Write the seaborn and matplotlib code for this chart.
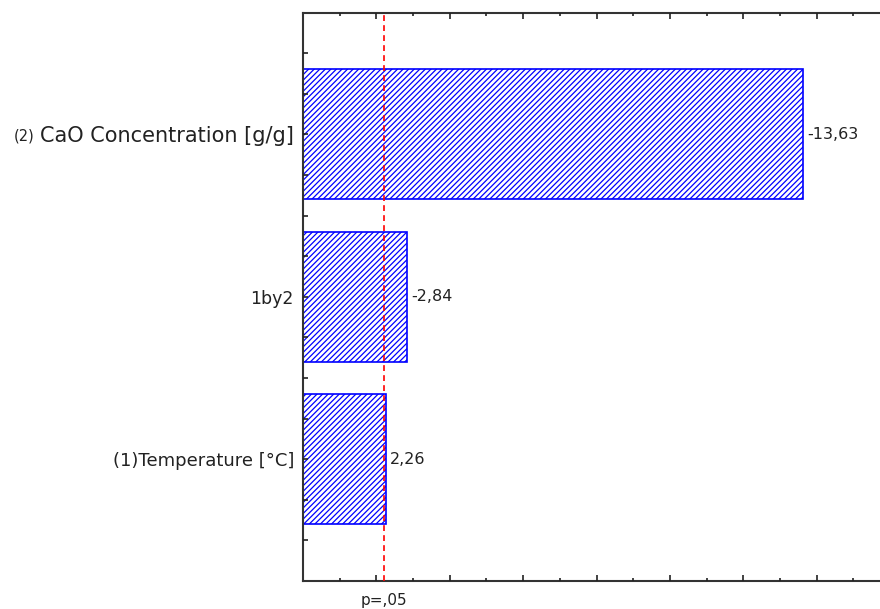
import matplotlib
matplotlib.use("Agg")
import matplotlib.pyplot as plt
import seaborn as sns
import numpy as np
import pandas as pd

# ---- data ----
factors = ["CaO Concentration [g/g]", "1by2", "(1)Temperature [°C]"]
factor_prefix = ["(2)", "", ""]
effects = [-13.63, -2.84, 2.26]
p_crit = 2.201
p_label = "p=,05"

sns.set_style("white")
plt.rcParams["font.family"] = ["DejaVu Sans"]
plt.rcParams["hatch.linewidth"] = 0.9
plt.rcParams["hatch.color"] = "#1f1fff"

df = pd.DataFrame({"factor": factors, "effect": np.abs(effects)})

fig = plt.figure(figsize=(8.8, 6.09), dpi=100)
ax = fig.add_axes([303 / 880, (609 - 581) / 609, 587 / 880, (581 - 12.5) / 609])

sns.barplot(data=df, x="effect", y="factor", orient="h", order=factors,
            color="white", edgecolor="#0000ff", linewidth=1.2, hatch="//////",
            width=0.8, ax=ax, zorder=1)
for p in ax.patches:
    p.set_facecolor("white")
    p.set_edgecolor("#0000ff")
    p.set_hatch("//////")

ax.set_xlim(0, 16)
ax.set_ylim(2.75, -0.75)
ax.set_xlabel("")
ax.set_ylabel("")

# p = .05 reference line
ax.axvline(p_crit, color="red", lw=1.2, ls=(0, (3.5, 2.5)), zorder=5)
ax.annotate(p_label, xy=(p_crit, 0), xycoords=ax.get_xaxis_transform(),
            xytext=(0, -8.5), textcoords="offset points", ha="center", va="top",
            fontsize=11, color="#222222")

# value labels
for i, v in enumerate(effects):
    ax.annotate(f"{v:.2f}".replace(".", ","), xy=(abs(v), i), xytext=(3, 0),
                textcoords="offset points", ha="left", va="center",
                fontsize=11.5, color="#222222")

# ticks
ax.set_axisbelow(False)
ax.set_xticks(np.arange(2, 17, 2))
ax.set_xticks(np.arange(1, 17, 2), minor=True)
ax.set_xticklabels([])
ax.tick_params(axis="x", which="both", direction="in", top=True, bottom=True,
               color="#222222")
ax.tick_params(axis="x", which="major", length=4, width=1.2)
ax.tick_params(axis="x", which="minor", length=2.5, width=1.2)

ax.set_yticks([0, 1, 2])
ax.set_yticks(np.arange(-0.5, 2.6, 0.25), minor=True)
ax.set_yticklabels(factors)
ax.tick_params(axis="y", which="both", direction="in", left=True, right=False,
               length=3.5, width=1.2, color="#222222", pad=6.5)
sizes = [15, 12.5, 13]
for lbl, s in zip(ax.get_yticklabels(), sizes):
    lbl.set_fontsize(s)
    lbl.set_color("#222222")

# small prefix for first label
fig.canvas.draw()
first = ax.get_yticklabels()[0]
ax.annotate(factor_prefix[0], xy=(0, 0.5), xycoords=first, xytext=(-4, 0),
            textcoords="offset points", ha="right", va="center",
            fontsize=10.5, color="#222222")

for side in ["left", "bottom", "top", "right"]:
    ax.spines[side].set_visible(True)
    ax.spines[side].set_color("#333333")
    ax.spines[side].set_linewidth(1.5)

fig.savefig("out.png", dpi=100)
